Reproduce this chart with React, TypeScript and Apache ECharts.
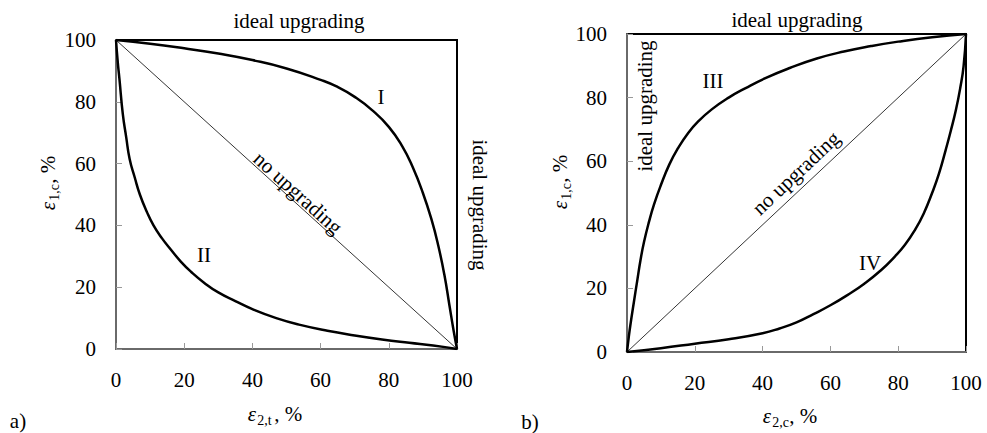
import React, { useEffect, useRef } from "react";
import * as echarts from "echarts";

// ---- data ----
const axisTicks = [0, 20, 40, 60, 80, 100];

const diagonalA: [number, number][] = [[0, 100], [100, 0]];
const curveI: [number, number][] = [
  [0, 100], [10, 98.8], [20, 97.3], [30, 95.6], [40, 93.5], [50, 90.8],
  [60, 87.1], [65, 84.8], [70, 81.6], [75, 77.4], [80, 71.9], [84, 65.5],
  [87, 58.9], [90, 50.5], [92.5, 42], [94.5, 33.5], [96.3, 24], [97.8, 14],
  [99, 6], [100, 0],
];
const curveII: [number, number][] = [
  [0, 100], [0.5, 93], [1, 87.5], [2, 76], [3, 68.5], [4, 61.5], [5.5, 55.5],
  [7, 50], [9, 44.5], [11, 40], [13.5, 35.8], [16, 32.3], [19, 28.3], [22, 25],
  [26, 21.3], [30, 18.3], [35, 15.5], [40, 12.9], [47, 10], [54, 7.8], [62, 5.9],
  [70, 4.4], [78, 3.1], [86, 2], [93, 1.1], [100, 0],
];

const diagonalB: [number, number][] = [[0, 0], [100, 100]];
const curveIII: [number, number][] = [
  [0, 0], [0.5, 4.5], [1, 8.5], [2, 15.5], [3, 22.3], [4, 29], [5, 34.5],
  [6.5, 41], [8, 46.5], [10, 52.5], [12.5, 59], [15, 64], [18, 68.8], [21, 72.5],
  [25, 76.3], [30, 80], [35, 83], [41, 86.2], [48, 89.3], [56, 92.3], [64, 94.5],
  [72, 96.2], [80, 97.6], [90, 99], [100, 100],
];
const curveIV: [number, number][] = [
  [0, 0], [10, 1.2], [20, 2.6], [30, 4], [40, 5.9], [45, 7.4], [50, 9.3], [55, 11.9],
  [60, 14.7], [65, 17.9], [70, 21.5], [75, 25.8], [79, 30], [82, 33.7], [85, 38.5],
  [87.5, 43.5], [90, 50], [92, 56], [94, 63.5], [95.5, 69.5], [97, 76],
  [98.3, 83], [99.3, 90], [100, 100],
];

const FONT = "Liberation Serif";

function txt(text: string, x: number, y: number, rotation = 0) {
  return {
    type: "text",
    x,
    y,
    rotation,
    style: {
      text,
      fill: "#000",
      fontFamily: FONT,
      fontSize: 21,
      align: "center",
      verticalAlign: "middle",
    },
  };
}

// axis title: italic epsilon + subscript + ", %"
function axisTitle(sub: string, x: number, y: number, rotation = 0) {
  const epsW = 9.5;
  const subW = 17;
  const restW = 28;
  const x0 = -(epsW + subW + restW) / 2;
  return {
    type: "group",
    x,
    y,
    rotation,
    children: [
      {
        type: "text",
        x: x0,
        y: 0,
        style: { text: "ε", fill: "#000", fontFamily: FONT, fontSize: 21, fontStyle: "italic", align: "left", verticalAlign: "middle" },
      },
      {
        type: "text",
        x: x0 + epsW,
        y: 6,
        style: { text: sub, fill: "#000", fontFamily: FONT, fontSize: 14, align: "left", verticalAlign: "middle" },
      },
      {
        type: "text",
        x: x0 + epsW + subW,
        y: 0,
        style: { text: ", %", fill: "#000", fontFamily: FONT, fontSize: 21, align: "left", verticalAlign: "middle" },
      },
    ],
  };
}

function makeAxis(gridIndex: number) {
  return {
    type: "value",
    gridIndex,
    min: axisTicks[0],
    max: axisTicks[axisTicks.length - 1],
    interval: axisTicks[1] - axisTicks[0],
    axisLine: { show: true, lineStyle: { color: "#6a6a6a", width: 2 } },
    axisTick: { show: true, inside: true, length: 6, lineStyle: { color: "#999", width: 1 } },
    axisLabel: { fontFamily: FONT, fontSize: 21, color: "#000", margin: 20 },
    splitLine: { show: false },
  };
}

function line(data: [number, number][], idx: number, width: number, smooth: boolean) {
  return {
    type: "line",
    xAxisIndex: idx,
    yAxisIndex: idx,
    data,
    smooth: smooth ? 0.5 : false,
    symbol: "none",
    lineStyle: { color: "#000", width },
    silent: true,
  };
}

export default function App() {
  const ref = useRef<HTMLDivElement>(null);
  useEffect(() => {
    if (!ref.current) return;
    const chart = echarts.init(ref.current, undefined, { renderer: "svg" });
    chart.setOption({
      animation: false,
      backgroundColor: "#fff",
      textStyle: { fontFamily: FONT },
      grid: [
        { left: 116, top: 40, width: 341, height: 309, show: true, borderColor: "#000", borderWidth: 2 },
        { left: 627, top: 34, width: 339, height: 318, show: true, borderColor: "#000", borderWidth: 2 },
      ],
      xAxis: [makeAxis(0), makeAxis(1)],
      yAxis: [makeAxis(0), makeAxis(1)],
      series: [
        line(diagonalA, 0, 0.8, false),
        line(curveI, 0, 2.5, true),
        line(curveII, 0, 2.5, true),
        line(diagonalB, 1, 0.8, false),
        line(curveIII, 1, 2.5, true),
        line(curveIV, 1, 2.5, true),
      ],
      graphic: [
        txt("ideal upgrading", 299, 21),
        txt("ideal upgrading", 480, 205, -Math.PI / 2),
        txt("I", 381, 97),
        txt("II", 204, 255),
        txt("no upgrading", 298, 193, -0.737),
        axisTitle("1,c", 48, 183, Math.PI / 2),
        axisTitle("2,t", 275, 414),
        txt("a)", 18, 421),
        txt("ideal upgrading", 797, 20),
        txt("ideal upgrading", 645, 106, Math.PI / 2),
        txt("III", 713, 81),
        txt("IV", 870, 263),
        txt("no upgrading", 796, 173, 0.754),
        axisTitle("1,c", 560, 182, Math.PI / 2),
        axisTitle("2,c", 790, 416),
        txt("b)", 530, 422),
      ],
    });
    return () => chart.dispose();
  }, []);
  return (
    <div
      ref={ref}
      style={{ position: "fixed", left: 0, top: 0, width: 987, height: 433, background: "#fff" }}
    />
  );
}
